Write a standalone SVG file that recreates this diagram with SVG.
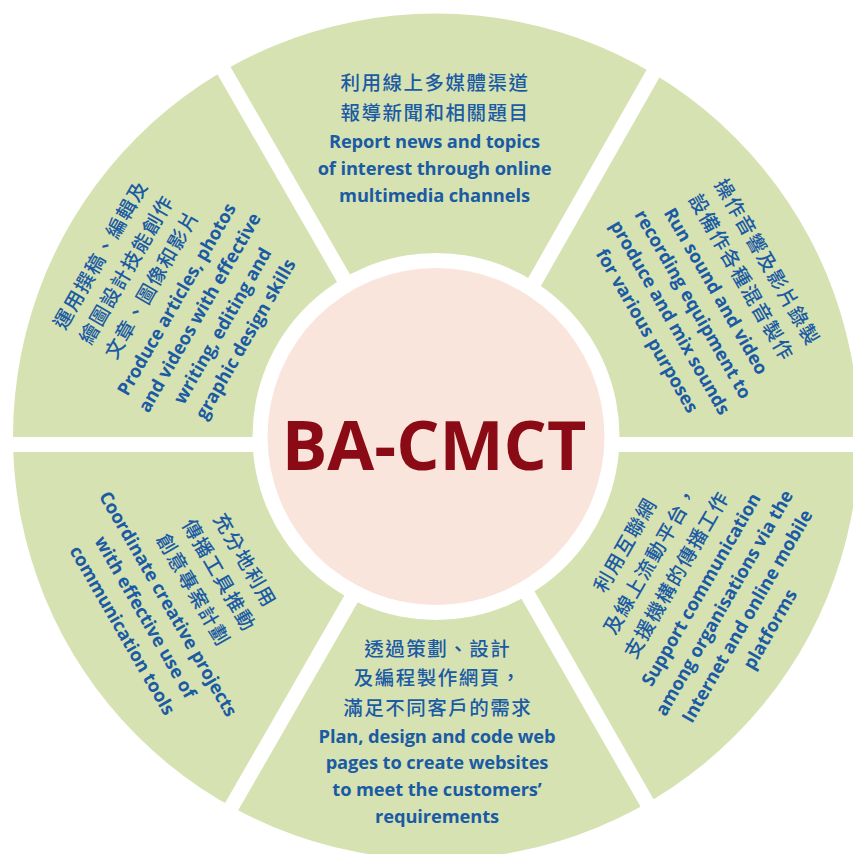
<svg xmlns="http://www.w3.org/2000/svg" xmlns:xlink="http://www.w3.org/1999/xlink" width="853" height="854" viewBox="0 0 853 854">
<style>
.seg{fill:#D7E2B3}
.cjk{font-family:"Noto Sans CJK TC","Noto Sans CJK SC",sans-serif;font-size:19.5px;letter-spacing:1.5px;fill:#1A5BA3;text-anchor:middle;font-weight:500}
.en{font-family:"Open Sans","Noto Sans",sans-serif;font-size:18.3px;font-weight:bold;fill:#1A5BA3;text-anchor:middle;letter-spacing:-0.1px}
.title{font-family:"Open Sans","Noto Sans",sans-serif;font-size:68px;font-weight:bold;fill:#8A0B15;text-anchor:middle}
</style>
<defs>
<path id="ring" fill-rule="evenodd" d="M13,436.5 A423,423 0 1 1 859,436.5 A423,423 0 1 1 13,436.5 Z M252.5,436.5 A183.5,183.5 0 1 0 619.5,436.5 A183.5,183.5 0 1 0 252.5,436.5 Z"/>
<clipPath id="c-top"><polygon points="380.66,327.76 191.1,-1.57 685.73,0.95 497.87,331.26"/></clipPath>
<clipPath id="c-tr"><polygon points="510.91,338.68 698.77,8.37 900,0 900,437 520,437"/></clipPath>
<clipPath id="c-br"><polygon points="520,452 900,452 900,950 734.13,939.86 485.61,506"/></clipPath>
<clipPath id="c-bot"><polygon points="472.59,513.46 721.1,947.3 157.16,951.22 406.34,517.74"/></clipPath>
<clipPath id="c-bl"><polygon points="393.34,510.26 144.16,943.74 -50,950 -50,452 350,452"/></clipPath>
<clipPath id="c-tl"><polygon points="350,437 -50,437 -50,0 178.1,5.9 367.66,335.24"/></clipPath>
</defs>
<rect width="853" height="854" fill="#FFFFFF"/>

<g id="seg-top">
<use xlink:href="#ring" class="seg" clip-path="url(#c-top)"/>
<text class="cjk" x="435" y="90.3">利用線上多媒體渠道</text>
<text class="cjk" x="435" y="120.3">報導新聞和相關題目</text>
<text class="en" x="434.5" y="148.3">Report news and topics</text>
<text class="en" x="434.5" y="175">of interest through online</text>
<text class="en" x="434.5" y="201.7">multimedia channels</text>
</g>

<g id="seg-top-right">
<use xlink:href="#ring" class="seg" clip-path="url(#c-tr)"/>
<g transform="translate(760.5,265.3) rotate(60)">
<text class="cjk" x="0.75" y="0">操作音響及影片錄製</text>
<text class="cjk" x="0.75" y="29.7">設備作各種混音製作</text>
<text class="en" x="0" y="57.7">Run sound and video</text>
<text class="en" x="0" y="84.2">recording equipment to</text>
<text class="en" x="0" y="110.7">produce and mix sounds</text>
<text class="en" x="0" y="137.2">for various purposes</text>
</g>
</g>

<g id="seg-bottom-right">
<use xlink:href="#ring" class="seg" clip-path="url(#c-br)"/>
<g transform="translate(630.9,549.1) rotate(-60)">
<text class="cjk" x="0.75" y="0">利用互聯網</text>
<text class="cjk" x="0.75" y="29.7">及線上流動平台，</text>
<text class="cjk" x="0.75" y="59.4">支援機構的傳播工作</text>
<text class="en" x="0" y="87.4">Support communication</text>
<text class="en" x="0" y="113.9">among organisations via the</text>
<text class="en" x="0" y="140.4">Internet and online mobile</text>
<text class="en" x="0" y="166.9">platforms</text>
</g>
</g>

<g id="seg-bottom">
<use xlink:href="#ring" class="seg" clip-path="url(#c-bot)"/>
<text class="cjk" x="437.75" y="656">透過策劃、設計</text>
<text class="cjk" x="437.75" y="685.3">及編程製作網頁，</text>
<text class="cjk" x="437.75" y="715.3">滿足不同客戶的需求</text>
<text class="en" x="437" y="743.3">Plan, design and code web</text>
<text class="en" x="437" y="769.3">pages to create websites</text>
<text class="en" x="437" y="796">to meet the customers’</text>
<text class="en" x="437" y="822.7">requirements</text>
</g>

<g id="seg-bottom-left">
<use xlink:href="#ring" class="seg" clip-path="url(#c-bl)"/>
<g transform="translate(238.4,563.3) rotate(60)">
<text class="cjk" x="0.75" y="0">充分地利用</text>
<text class="cjk" x="0.75" y="29.7">傳播工具推動</text>
<text class="cjk" x="0.75" y="59.4">創意專案計劃</text>
<text class="en" x="0" y="87.4">Coordinate creative projects</text>
<text class="en" x="0" y="113.9">with effective use of</text>
<text class="en" x="0" y="140.4">communication tools</text>
</g>
</g>

<g id="seg-top-left">
<use xlink:href="#ring" class="seg" clip-path="url(#c-tl)"/>
<g transform="translate(106.3,258.8) rotate(-60)">
<text class="cjk" x="0.75" y="0">運用撰稿、編輯及</text>
<text class="cjk" x="0.75" y="29.7">繪圖設計技能創作</text>
<text class="cjk" x="0.75" y="59.4">文章、圖像和影片</text>
<text class="en" x="0" y="87.4">Produce articles, photos</text>
<text class="en" x="0" y="113.9">and videos with effective</text>
<text class="en" x="0" y="140.4">writing, editing and</text>
<text class="en" x="0" y="166.9">graphic design skills</text>
</g>
</g>

<g id="center">
<circle cx="436" cy="436.5" r="168.5" fill="#F9E5DC"/>
<text class="title" x="434" y="470">BA-CMCT</text>
</g>
</svg>
